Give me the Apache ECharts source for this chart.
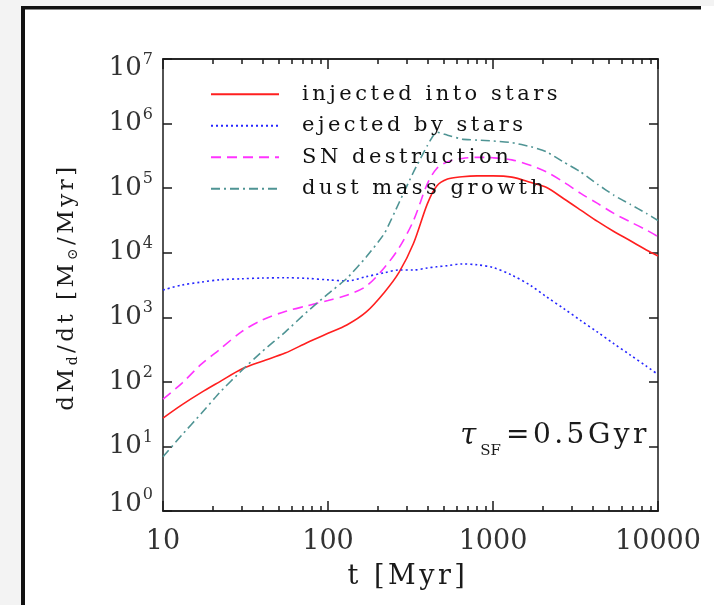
<!DOCTYPE html>
<html>
<head>
<meta charset="utf-8">
<title>Dust mass rates</title>
<script src="https://cdn.jsdelivr.net/npm/echarts@6/dist/echarts.min.js"></script>
<style>
  html, body { margin: 0; padding: 0; background: #ffffff; overflow: hidden; }
  #chart { width: 714px; height: 605px; }
</style>
</head>
<body>
<div id="chart"></div>
<script>
// ---- data -------------------------------------------------------------
// time in Myr
const tMyr = [10, 13, 17, 22, 30, 40, 55, 75, 100, 130, 170, 220, 270, 330, 400,
              455, 530, 650, 800, 1000, 1300, 1700, 2100, 2700, 3400, 4300, 5400,
              6800, 8500, 10000];

// dM_d/dt in Msun/Myr
const injectedIntoStars = [27.5, 44, 68, 100, 158, 209, 279, 407, 565, 760, 1200,
  2450, 5000, 14000, 57000, 107000, 138000, 150000, 155000, 155000, 148000, 122000,
  103000, 68000, 45800, 30500, 21300, 15300, 11000, 8900];

const ejectedByStars = [2650, 3150, 3500, 3800, 3950, 4050, 4100, 4000, 3800, 3650,
  4250, 4900, 5400, 5400, 5800, 6050, 6300, 6700, 6500, 5900, 4500, 3080, 2090, 1350,
  890, 590, 390, 260, 175, 130];

const snDestruction = [54, 95, 186, 316, 600, 910, 1230, 1510, 1820, 2190, 3020,
  5900, 12000, 31600, 117000, 200000, 257000, 288000, 300000, 295000, 274000, 224000,
  179000, 123000, 83000, 58000, 40600, 30000, 22500, 17800];

const dustMassGrowth = [6.9, 15, 32, 68, 150, 297, 590, 1230, 2300, 4000, 8500,
  20000, 60000, 178000, 457000, 740000, 660000, 575000, 555000, 537000, 508000,
  437000, 367000, 251000, 178000, 115000, 77600, 56000, 40600, 31600];

const seriesNames = ['injected into stars', 'ejected by stars', 'SN destruction', 'dust mass growth'];

// axis ticks
const xLabelValues = [10, 100, 1000, 10000];
const xMajorTicks = [10, 100, 1000, 10000];
const xMinorTicks = [20, 30, 40, 50, 60, 70, 80, 90,
                     200, 300, 400, 500, 600, 700, 800, 900,
                     2000, 3000, 4000, 5000, 6000, 7000, 8000, 9000];
const yDecades = [1, 10, 100, 1000, 10000, 100000, 1000000, 10000000];

// ---- typography --------------------------------------------------------
// Word labels are set with extra tracking; numerals use the plain family.
const WORD_FONT = "'DejaVu Serif', 'Liberation Serif', serif";
const NUM_FONT = "'DejaVu Serif', serif";
const TRACKING = 3.5;
(function () {
  const P = CanvasRenderingContext2D.prototype;
  if (!('letterSpacing' in P)) return;
  ['fillText', 'strokeText', 'measureText'].forEach(function (name) {
    const orig = P[name];
    P[name] = function () {
      this.letterSpacing = (/Liberation/.test(this.font) ? TRACKING : 0) + 'px';
      return orig.apply(this, arguments);
    };
  });
})();

// ---- chart -------------------------------------------------------------
const INK = '#1a1a1a';
const pairs = vals => tMyr.map((t, i) => [t, vals[i]]);
const PLOT = { left: 163, top: 59, right: 56, bottom: 94, containLabel: false };

// main time axes (log scale, carry the data and the decade ticks)
function xAxisDef(position, showLabel) {
  return {
    gridIndex: 0, type: 'log', min: 10, max: 10000, position: position,
    axisLine: { show: true, onZero: false, lineStyle: { color: INK, width: 1.5 } },
    axisTick: { show: true, inside: true, length: 10, customValues: xMajorTicks,
                lineStyle: { color: INK, width: 1.5 } },
    axisLabel: { show: showLabel, customValues: xLabelValues, margin: 17,
                 fontFamily: NUM_FONT, fontSize: 27, lineHeight: 27, color: '#333',
                 formatter: v => String(Math.round(v)) },
    splitLine: { show: false }
  };
}
// overlay axes in log10(t) units (second grid, same box) carrying the minor ticks
function xMinorAxisDef(position) {
  return {
    gridIndex: 1, type: 'value', min: 1, max: 4, position: position,
    axisLine: { show: true, onZero: false, lineStyle: { color: INK, width: 1.5 } },
    axisTick: { show: true, inside: true, length: 5,
                customValues: xMinorTicks.map(v => Math.log10(v)),
                lineStyle: { color: INK, width: 1.5 } },
    axisLabel: { show: false },
    splitLine: { show: false }
  };
}

function yLabel(v) {
  const e = Math.round(Math.log10(v));
  const k = e === 7 ? 'T' : (e === 0 ? 'B' : 'N');
  return '{b' + k + '|10}{s' + k + '|' + e + '}';
}
const bBase = { fontFamily: NUM_FONT, fontSize: 26, color: '#333' };
const sBase = { fontFamily: NUM_FONT, fontSize: 16, color: '#333', verticalAlign: 'top' };

function yAxisDef(position, showLabel) {
  return {
    gridIndex: 0, type: 'log', min: 1, max: 10000000, position: position,
    axisLine: { show: true, onZero: false, lineStyle: { color: INK, width: 1.5 } },
    axisTick: { show: true, inside: true, length: 9, customValues: yDecades,
                lineStyle: { color: INK, width: 1.5 } },
    axisLabel: {
      show: showLabel, customValues: yDecades, margin: 10, formatter: yLabel,
      rich: {
        bN: Object.assign({ padding: [4, 0, 4, 0] }, bBase),
        sN: Object.assign({ padding: [0, 0, 0, 1] }, sBase),
        bT: Object.assign({ padding: [23, 0, 4, 0] }, bBase),
        sT: Object.assign({ padding: [19, 0, 0, 1] }, sBase),
        bB: Object.assign({ padding: [4, 0, 18, 0] }, bBase),
        sB: Object.assign({ padding: [0, 0, 0, 1] }, sBase)
      }
    },
    splitLine: { show: false }
  };
}

function lineSeries(name, vals, color, type, smooth) {
  return {
    name: name, type: 'line', data: pairs(vals), xAxisIndex: 0, yAxisIndex: 0,
    symbol: 'none', showSymbol: false, smooth: smooth, z: 3,
    lineStyle: { color: color, width: 1.6, type: type },
    itemStyle: { color: color }
  };
}

const chart = echarts.init(document.getElementById('chart'), null, { renderer: 'canvas' });

chart.setOption({
  animation: false,
  backgroundColor: '#ffffff',
  grid: [Object.assign({}, PLOT), Object.assign({}, PLOT)],
  xAxis: [
    xAxisDef('bottom', true),
    xAxisDef('top', false),
    xMinorAxisDef('bottom'),
    xMinorAxisDef('top')
  ],
  yAxis: [
    yAxisDef('left', true),
    yAxisDef('right', false),
    { gridIndex: 1, type: 'value', min: 0, max: 1, show: false }
  ],
  legend: {
    orient: 'vertical', left: 210, top: 82, padding: 0,
    itemWidth: 68, itemHeight: 14, itemGap: 7,
    selectedMode: false, data: seriesNames,
    itemStyle: { opacity: 0 },
    textStyle: { fontFamily: WORD_FONT, fontSize: 21, color: '#111', lineHeight: 20,
                 padding: [0, 0, 0, 18] }
  },
  graphic: [
    // light margin outside the frame
    { type: 'rect', silent: true, z: -10,
      shape: { x: 0, y: 0, width: 714, height: 6 }, style: { fill: '#f3f3f3' } },
    { type: 'rect', silent: true, z: -10,
      shape: { x: 0, y: 0, width: 21, height: 605 }, style: { fill: '#f3f3f3' } },
    // frame
    { type: 'rect', silent: true, z: 10,
      shape: { x: 21, y: 6, width: 680, height: 3.5 }, style: { fill: '#111' } },
    { type: 'rect', silent: true, z: 10,
      shape: { x: 21, y: 6, width: 4, height: 599 }, style: { fill: '#111' } },
    { // y axis title
      type: 'text', silent: true, x: 67, y: 287, rotation: Math.PI / 2,
      style: {
        text: '{m|dM}{s|d}{m|/dt [M}{s|⊙}{m|/Myr]}',
        align: 'center', verticalAlign: 'middle',
        rich: {
          m: { fontFamily: WORD_FONT, fontSize: 23, fill: INK },
          s: { fontFamily: WORD_FONT, fontSize: 14, fill: INK, padding: [13, 0, 0, 0] }
        }
      }
    },
    { // x axis title
      type: 'text', silent: true, x: 408, y: 577,
      style: { text: 't [Myr]', fontFamily: WORD_FONT, fontSize: 27, fill: INK,
               align: 'center', verticalAlign: 'middle' }
    },
    { // star formation timescale
      type: 'text', silent: true, x: 650, y: 436,
      style: {
        text: '{t|τ}{s|SF}{m|=0.5Gyr}',
        align: 'right', verticalAlign: 'middle',
        rich: {
          t: { fontFamily: NUM_FONT, fontSize: 29, fontStyle: 'italic', fill: INK,
               padding: [0, 4, 0, 0] },
          s: { fontFamily: NUM_FONT, fontSize: 15, fill: INK, padding: [30, 5, 0, 0] },
          m: { fontFamily: WORD_FONT, fontSize: 28, fill: INK }
        }
      }
    }
  ],
  series: [
    lineSeries(seriesNames[0], injectedIntoStars, '#ff1f1f', 'solid', 0.3),
    lineSeries(seriesNames[1], ejectedByStars, '#2626ff', [2, 3], 0.3),
    lineSeries(seriesNames[2], snDestruction, '#ff33ff', [10, 6], 0.3),
    lineSeries(seriesNames[3], dustMassGrowth, '#4f9494', [9, 4, 2, 4], 0.15)
  ]
});
</script>
</body>
</html>
